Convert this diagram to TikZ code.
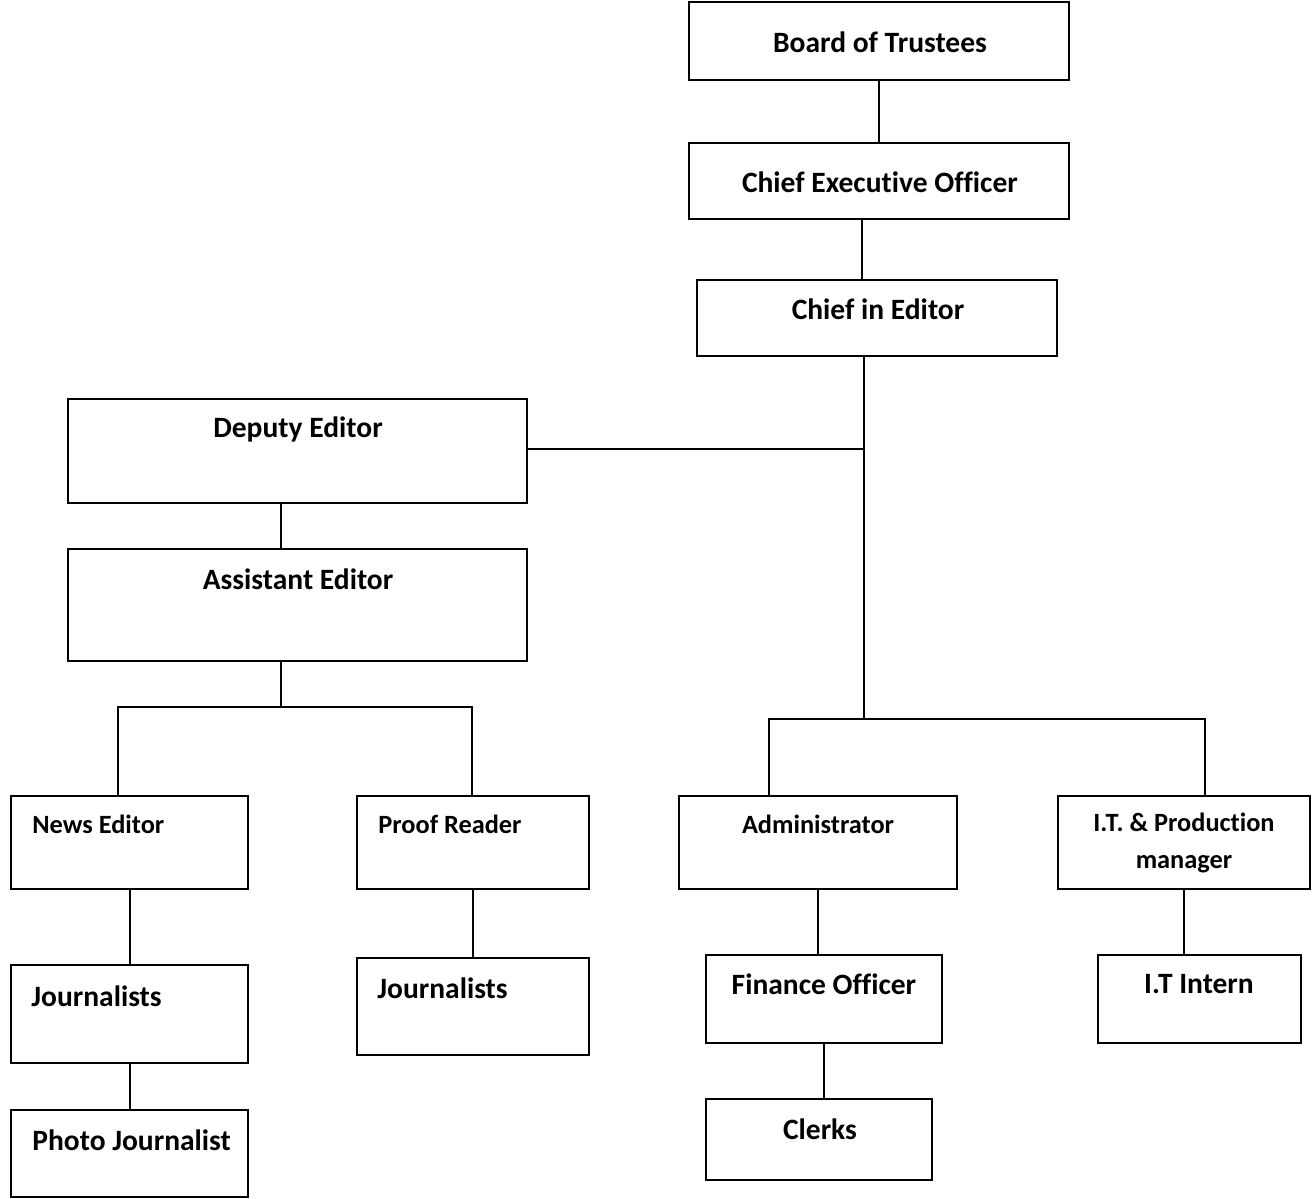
\documentclass[tikz,border=0pt]{standalone}
\usepackage{fontspec}
\setmainfont[Ligatures=NoCommon]{Carlito}
\usetikzlibrary{fit}

\begin{document}
\begin{tikzpicture}[x=0.02cm, y=-0.02cm,
    box/.style={draw, line width=1.1pt, inner sep=0pt, fit={#1}},
    big/.style={font=\fontsize{16.8}{20}\selectfont\bfseries, inner sep=0pt},
    small/.style={font=\fontsize{15}{21}\selectfont\bfseries, inner sep=0pt, align=center},
    link/.style={line width=1pt}]
    \useasboundingbox (0,0) rectangle (1316,1199);

    % boxes
    \node[box={(689,2) (1069,80)}] (bot) {};
    \node[box={(689,143) (1069,219)}] (ceo) {};
    \node[box={(697,280) (1057,356)}] (cie) {};
    \node[box={(68,399) (527,503)}] (dep) {};
    \node[box={(68,549) (527,661)}] (ast) {};
    \node[box={(11,796) (248,889)}] (nws) {};
    \node[box={(357,796) (589,889)}] (prf) {};
    \node[box={(679,796) (957,889)}] (adm) {};
    \node[box={(1058,796) (1310,889)}] (itp) {};
    \node[box={(11,965) (248,1063)}] (jo1) {};
    \node[box={(357,958) (589,1055)}] (jo2) {};
    \node[box={(706,955) (942,1043)}] (fin) {};
    \node[box={(1098,955) (1301,1043)}] (itn) {};
    \node[box={(11,1110) (248,1197)}] (pho) {};
    \node[box={(706,1099) (932,1180)}] (clk) {};

    % texts
    \node[big] (botT) at (880,42) {Board of Trustees};
    \node[big] (ceoT) at (880,182) {Chief Executive Officer};
    \node[big] (cieT) at (878,309) {Chief in Editor};
    \node[big] (depT) at (298,429) {Deputy Editor};
    \node[big] (astT) at (298,579) {Assistant Editor};
    \node[small, anchor=west] (nwsT) at (32,824) {News Editor};
    \node[small, anchor=west] (prfT) at (378,824) {Proof Reader};
    \node[small] (admT) at (818,824) {Administrator};
    \node[small] (itpT) at (1184,843) {I.T. \& Production\\manager};
    \node[big, anchor=west] (jo1T) at (31,996) {Journalists};
    \node[big, anchor=west] (jo2T) at (377,988) {Journalists};
    \node[big] (finT) at (824,984) {Finance Officer};
    \node[big] (itnT) at (1199,984) {I.T Intern};
    \node[big, anchor=west] (phoT) at (32,1140) {Photo Journalist};
    \node[big] (clkT) at (820,1129) {Clerks};

    % junction points
    \coordinate (c1) at (862,0);
    \coordinate (jn) at (864,449);
    \coordinate (sp) at (864,719);
    \coordinate (ra) at (769,719);
    \coordinate (rc) at (1205,719);
    \coordinate (lv) at (281,707);
    \coordinate (la) at (118,707);
    \coordinate (lb) at (472,707);
    \coordinate (lj) at (130,0);

    % connectors
    \draw[link] (bot.south) -- (ceo.north);
    \draw[link] (ceo.south -| c1) -- (cie.north -| c1);
    \draw[link] (cie.south -| sp) -- (sp);
    \draw[link] (dep.east |- jn) -- (jn);
    \draw[link] (ra |- adm.north) -- (ra) -- (rc) -- (rc |- itp.north);
    \draw[link] (dep.south -| lv) -- (ast.north -| lv);
    \draw[link] (ast.south -| lv) -- (lv);
    \draw[link] (la |- nws.north) -- (la) -- (lb) -- (lb |- prf.north);
    \draw[link] (nws.south -| lj) -- (jo1.north -| lj);
    \draw[link] (jo1.south -| lj) -- (pho.north -| lj);
    \draw[link] (prf.south) -- (jo2.north);
    \draw[link] (adm.south) -- (adm.south |- fin.north);
    \draw[link] (fin.south) -- (fin.south |- clk.north);
    \draw[link] (itp.south) -- (itp.south |- itn.north);
\end{tikzpicture}
\end{document}
